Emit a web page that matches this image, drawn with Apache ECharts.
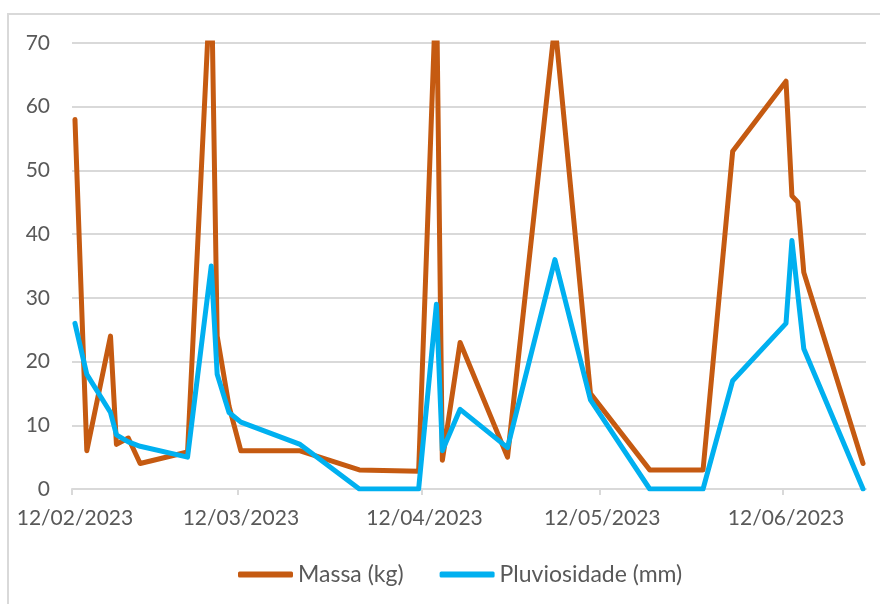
<!DOCTYPE html>
<html>
<head>
<meta charset="utf-8">
<script src="https://cdn.jsdelivr.net/npm/echarts@6/dist/echarts.min.js"></script>
<style>
  html, body { margin: 0; padding: 0; background: #ffffff; }
  #chart { width: 880px; height: 604px; }
</style>
</head>
<body>
<div id="chart"></div>
<script>
// Sampling dates (dd/mm/yyyy shown on the axis)
const dates = [
  '2023-02-12', '2023-02-14', '2023-02-18', '2023-02-19', '2023-02-21', '2023-02-23',
  '2023-03-03', '2023-03-07', '2023-03-08', '2023-03-10', '2023-03-12', '2023-03-22',
  '2023-04-01', '2023-04-11', '2023-04-14', '2023-04-15', '2023-04-18', '2023-04-26',
  '2023-05-04', '2023-05-10', '2023-05-20', '2023-05-29', '2023-06-03', '2023-06-12',
  '2023-06-13', '2023-06-14', '2023-06-15', '2023-06-25'
];
// Massa (kg)
const massa = [
  58, 6, 24, 7, 8, 4,
  5.8, 82, 24, 13, 6, 6,
  3, 2.8, 80, 4.5, 23, 5,
  73, 15, 3, 3, 53, 64,
  46, 45, 34, 4
];
// Pluviosidade (mm)
const pluviosidade = [
  26, 18, 12, 8.5, 7.4, 6.7,
  5, 35, 18, 12, 10.5, 7,
  0, 0, 29, 6, 12.5, 6.5,
  36, 14, 0, 0, 17, 26,
  39, 30.5, 22, 0
];
// Axis ticks (one per month) and axis range
const tickDates = ['2023-02-12', '2023-03-12', '2023-04-12', '2023-05-12', '2023-06-12'];
const axisStart = '2023-02-12';
const axisEnd = '2023-06-26';
const seriesNames = ['Massa (kg)', 'Pluviosidade (mm)'];

const DAY = 86400000;
const toUTC = s => { const p = s.split('-').map(Number); return Date.UTC(p[0], p[1] - 1, p[2]); };
const t0 = toUTC(axisStart);
const dayOf = s => (toUTC(s) - t0) / DAY;
// each sample sits in the middle of its day
const pos = s => dayOf(s) + 0.5;
const pad = n => (n < 10 ? '0' : '') + n;
const fmtDay = v => {
  const d = new Date(t0 + Math.floor(v + 1e-6) * DAY);
  return pad(d.getUTCDate()) + '/' + pad(d.getUTCMonth() + 1) + '/' + d.getUTCFullYear();
};

const font = 'Lato, "Open Sans", sans-serif';
const textColor = '#595959';
const gridColor = '#d9d9d9';

const chart = echarts.init(document.getElementById('chart'), null, { renderer: 'canvas' });
chart.setOption({
  animation: false,
  backgroundColor: '#ffffff',
  graphic: [{
    type: 'rect',
    shape: { x: 8, y: 14, width: 1000, height: 1000 },
    style: { fill: 'none', stroke: gridColor, lineWidth: 2 },
    silent: true
  }],
  grid: { left: 72, right: 14, top: 43, bottom: 115, containLabel: false },
  legend: {
    bottom: 13,
    left: 233,
    icon: 'roundRect',
    itemWidth: 55,
    itemHeight: 6,
    itemGap: 36,
    textStyle: { fontFamily: font, fontSize: 23, color: textColor },
    data: seriesNames
  },
  xAxis: {
    type: 'value',
    min: 0,
    max: dayOf(axisEnd),
    axisLine: { show: true, lineStyle: { color: gridColor, width: 2 } },
    axisTick: {
      show: true, length: 6, inside: false,
      customValues: tickDates.map(dayOf),
      lineStyle: { color: gridColor, width: 2 }
    },
    axisLabel: {
      customValues: tickDates.map(pos),
      formatter: fmtDay,
      fontFamily: font, fontSize: 21, color: textColor, margin: 19
    },
    splitLine: { show: false }
  },
  yAxis: {
    type: 'value',
    min: 0, max: 70, interval: 10,
    axisLine: { show: false },
    axisTick: { show: false },
    axisLabel: { fontFamily: font, fontSize: 21, color: textColor, margin: 22 },
    splitLine: { show: true, lineStyle: { color: gridColor, width: 2 } }
  },
  series: [
    {
      name: seriesNames[0], type: 'line', symbol: 'none', clip: true,
      data: dates.map((d, i) => [pos(d), massa[i]]),
      itemStyle: { color: '#C55A11' },
      lineStyle: { color: '#C55A11', width: 5, cap: 'round', join: 'round' }
    },
    {
      name: seriesNames[1], type: 'line', symbol: 'none', clip: true,
      data: dates.map((d, i) => [pos(d), pluviosidade[i]]),
      itemStyle: { color: '#00B0F0' },
      lineStyle: { color: '#00B0F0', width: 5, cap: 'round', join: 'round' }
    }
  ]
});
</script>
</body>
</html>
